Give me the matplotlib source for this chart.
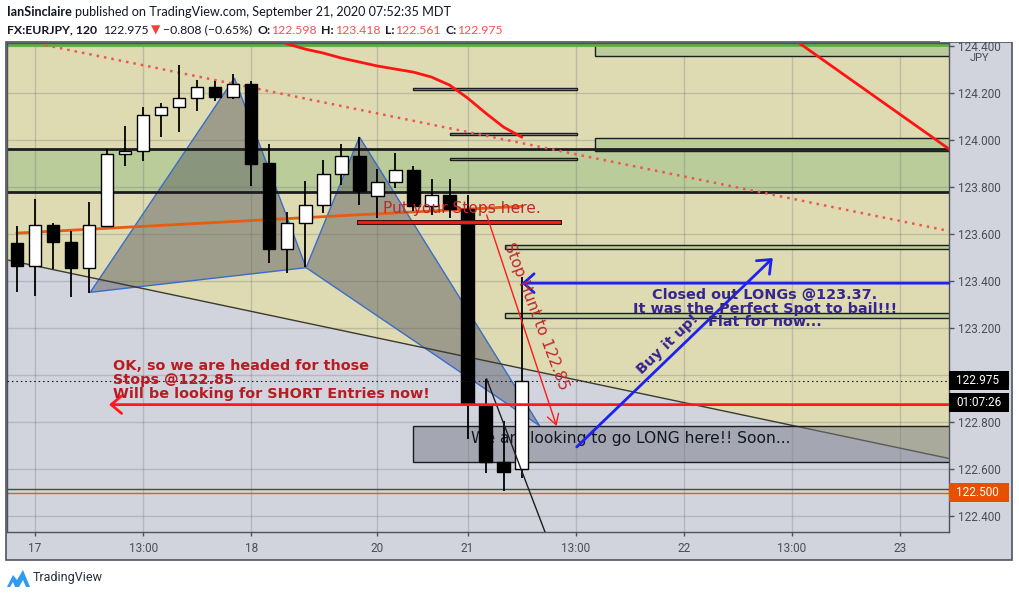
import matplotlib
matplotlib.use("Agg")
import matplotlib.pyplot as plt
from matplotlib.patches import Rectangle, Polygon
from matplotlib.transforms import blended_transform_factory
import matplotlib.patheffects as pe
from matplotlib.ticker import FormatStrFormatter

plt.rcParams['font.family'] = ['DejaVu Sans']

W, H = 1020, 597

# ---------------- data ----------------
bar_open = [123.562, 123.465, 123.637, 123.565, 123.457, 123.635, 123.939, 123.952, 124.105, 124.139,
            124.178, 124.224, 124.184, 124.238, 123.901, 123.537, 123.647, 123.722, 123.854, 123.932,
            123.760, 123.820, 123.871, 123.721, 123.765, 123.705, 122.868, 122.631, 122.598]
bar_high = [123.634, 123.748, 123.647, 123.614, 123.735, 123.962, 124.060, 124.139, 124.157, 124.319,
            124.255, 124.252, 124.281, 124.252, 123.983, 123.692, 123.826, 123.915, 123.983, 124.014,
            123.877, 123.945, 123.889, 123.833, 123.833, 123.765, 122.984, 122.803, 123.418]
bar_low = [123.353, 123.336, 123.451, 123.331, 123.348, 123.631, 123.889, 123.912, 124.013, 124.035,
           124.125, 124.167, 124.174, 123.806, 123.478, 123.433, 123.458, 123.691, 123.810, 123.725,
           123.669, 123.794, 123.700, 123.681, 123.667, 122.727, 122.582, 122.508, 122.561]
bar_close = [123.464, 123.637, 123.565, 123.457, 123.637, 123.939, 123.952, 124.105, 124.139, 124.177,
             124.224, 124.184, 124.237, 123.899, 123.537, 123.647, 123.722, 123.854, 123.932, 123.783,
             123.821, 123.871, 123.721, 123.765, 123.705, 122.877, 122.631, 122.589, 122.975]

time_tick_idx = [1, 7, 13, 20, 25, 31, 37, 43, 49]
time_tick_labels = ['17', '13:00', '18', '20', '21', '13:00', '22', '13:00', '23']
price_ticks = [122.4, 122.6, 122.8, 123.0, 123.2, 123.4, 123.6, 123.8, 124.0, 124.2, 124.4]
price_tick_shown = [122.4, 122.6, 122.8, 123.2, 123.4, 123.6, 123.8, 124.0, 124.2, 124.4]

x_range = (-0.56, 51.72)
y_range = (122.332, 124.413)

ma_red_x = [14, 15, 16, 17, 18, 19, 20, 21, 22, 23, 24, 25, 26, 27, 28]
ma_red_y = [124.44, 124.409, 124.387, 124.370, 124.349, 124.332, 124.315, 124.302, 124.289,
            124.268, 124.234, 124.179, 124.115, 124.055, 124.013]
ma_orange_x = [0, 9, 18, 28]
ma_orange_y = [123.604, 123.641, 123.678, 123.718]

dotted_trend_x = [1.56, 51.72]
dotted_trend_y = [124.404, 123.613]
red_trend_x = [43.4, 51.72]
red_trend_y = [124.413, 123.962]
lower_trend_x = [-0.56, 51.72]
lower_trend_y = [123.49, 122.645]
steep_line_x = [26.06, 29.3]
steep_line_y = [122.983, 122.332]

pattern_xabcd_x = [4.06, 12.06, 16.04, 19.0, 29.0]
pattern_xabcd_y = [123.352, 124.264, 123.457, 124.013, 122.784]

green_band = (123.781, 123.962)
top_green_level = 124.407
right_boxes = [(32.06, 124.357, 124.42), (32.06, 123.953, 124.010),
               (27.06, 123.535, 123.554), (27.06, 123.243, 123.264)]
small_boxes = [(22.0, 31.06, 124.211, 124.221), (24.0, 31.06, 124.020, 124.031),
               (24.0, 31.06, 123.914, 123.922)]
long_zone = (22.0, 122.632, 122.783)
stop_level = (19.0, 30.06, 123.650)
last_price = 122.975
green_level = 122.515
orange_level = 122.500
red_arrow = (51.72, 5.1, 122.874)
blue_arrow = (51.72, 28.0, 123.391)
buy_arrow = ((31.06, 122.694), (41.94, 123.498))
hunt_arrow = ((26.06, 123.681), (29.94, 122.783))

# ---------------- figure ----------------
fig = plt.figure(figsize=(W / 100, H / 100), dpi=100)
fig.patch.set_facecolor('white')


def fx(px):
    return px / W


def fy(py):
    return 1 - py / H


frame = Rectangle((fx(6), fy(560)), fx(1012) - fx(6), fy(42) - fy(560), transform=fig.transFigure,
                  facecolor='#d1d4dc', edgecolor='#50535e', lw=1.2, zorder=-5)
fig.patches.append(frame)

ax = fig.add_axes([fx(7), fy(532), fx(949) - fx(7), fy(43) - fy(532)])
ax.set_facecolor('#d1d4dc')
ax.set_xlim(*x_range)
ax.set_ylim(*y_range)
x0, x1 = x_range
ytop = y_range[1]

# yellow area above the lower trend line
ax.add_patch(Polygon([(lower_trend_x[0], lower_trend_y[0]), (lower_trend_x[1], lower_trend_y[1]),
                      (x1, ytop + 0.1), (x0, ytop + 0.1)], closed=True,
                     facecolor='#dedbb2', edgecolor='none', zorder=0.5))
ax.plot(lower_trend_x, lower_trend_y, color='#3b3a2c', lw=1, zorder=2)

# green band
ax.add_patch(Rectangle((x0, green_band[0]), x1 - x0, green_band[1] - green_band[0],
                       facecolor='#b9cc99', edgecolor='none', zorder=0.6))
for lv in green_band:
    ax.axhline(lv, color='#1c1d20', lw=2, zorder=2)
ax.axhline(top_green_level, color='#5cb045', lw=3.5, zorder=2)

for (bx, b0, b1) in right_boxes:
    ax.add_patch(Rectangle((bx, b0), x1 + 1 - bx, b1 - b0, facecolor='#b9cc99',
                           edgecolor='#1c1d20', lw=1, zorder=1.7))
for (bx0, bx1, b0, b1) in small_boxes:
    ax.add_patch(Rectangle((bx0, b0), bx1 - bx0, b1 - b0, facecolor='#a9a99c',
                           edgecolor='#1c1d20', lw=1, zorder=1.7))

# grid / ticks
ax.set_xticks(time_tick_idx)
ax.set_xticklabels(time_tick_labels)
ax.set_yticks(price_ticks)
ax.yaxis.set_major_formatter(FormatStrFormatter('%.3f'))
ax.yaxis.tick_right()
ax.grid(True, color='#6a6d78', alpha=0.28, lw=1)
ax.xaxis.set_zorder(1.5)
ax.yaxis.set_zorder(1.5)
ax.tick_params(axis='y', direction='out', length=3.6, width=1, color='#50535e',
               labelsize=8.5, labelcolor='#4a4d57', pad=2.8)
ax.tick_params(axis='x', direction='out', length=3, width=1, color='#50535e',
               labelsize=8.5, labelcolor='#4a4d57', pad=4.5)
for lab in ax.get_xticklabels() + ax.get_yticklabels():
    lab.set_family(['Roboto', 'DejaVu Sans'])
# hide the 123.000 label (covered by price labels in the reference)
for tick, val in zip(ax.yaxis.get_major_ticks(), price_ticks):
    if val not in price_tick_shown:
        tick.label2.set_visible(False)
for sp in ax.spines.values():
    sp.set_color('#50535e')
    sp.set_linewidth(1)

# harmonic pattern triangles
px_, py_ = pattern_xabcd_x, pattern_xabcd_y
for tri in ([0, 1, 2], [2, 3, 4]):
    ax.add_patch(Polygon([(px_[k], py_[k]) for k in tri], closed=True,
                         facecolor=(0.34, 0.35, 0.38, 0.47), edgecolor='#3a6cc8', lw=1, zorder=1.8))

# long zone box
ax.add_patch(Rectangle((long_zone[0], long_zone[1]), x1 + 1 - long_zone[0], long_zone[2] - long_zone[1],
                       facecolor=(0.47, 0.48, 0.53, 0.5), edgecolor='#1c1d20', lw=1, zorder=3))
ax.text(25.2, 122.712, 'We are looking to go LONG here!! Soon...', fontsize=11.2, color='#131722',
        ha='left', va='baseline', zorder=3.5)

# moving averages and trend lines
ax.plot(ma_red_x, ma_red_y, color='#ff1414', lw=2, zorder=3.8)
ax.plot(ma_orange_x, ma_orange_y, color='#e65c12', lw=2, zorder=3.8)
ax.plot(dotted_trend_x, dotted_trend_y, color='#f0554f', lw=1.8, ls=(0, (1, 2)), zorder=3.8)
ax.plot(red_trend_x, red_trend_y, color='#ff1414', lw=2, zorder=3.8)

# horizontal levels
ax.axhline(green_level, color='#2e5a2e', lw=1, zorder=2)
ax.axhline(orange_level, color='#e65c12', lw=1, zorder=2)
ax.axhline(last_price, color='#131722', lw=0.8, ls=(0, (1.4, 2.6)), zorder=6)

# candles
for i, (o, h, l, c) in enumerate(zip(bar_open, bar_high, bar_low, bar_close)):
    ax.vlines(i, l, h, color='black', lw=1.3, zorder=4)
    bottom = min(o, c)
    height = max(abs(c - o), 0.004)
    fc = 'white' if c >= o else 'black'
    ax.add_patch(Rectangle((i - 0.34, bottom), 0.68, height, facecolor=fc, edgecolor='black',
                           lw=1, zorder=5))

# drawings above candles
ax.plot([stop_level[0], stop_level[1]], [stop_level[2]] * 2, color='#ff1a1a', lw=2, zorder=6,
        path_effects=[pe.Stroke(linewidth=3.6, foreground='#3a1212'), pe.Normal()])
ax.plot(steep_line_x, steep_line_y, color='#1c1d20', lw=1, zorder=6)

ax.annotate('', xy=(red_arrow[1], red_arrow[2]), xytext=(red_arrow[0], red_arrow[2]),
            arrowprops=dict(arrowstyle='->,head_length=0.5,head_width=0.42', color='#ff1a1a', lw=2,
                            shrinkA=0, shrinkB=0, mutation_scale=15), zorder=6)
ax.annotate('', xy=(blue_arrow[1], blue_arrow[2]), xytext=(blue_arrow[0], blue_arrow[2]),
            arrowprops=dict(arrowstyle='->,head_length=0.5,head_width=0.45', color='#1e22f0', lw=2,
                            shrinkA=0, shrinkB=0, mutation_scale=15), zorder=6)
ax.annotate('', xy=buy_arrow[1], xytext=buy_arrow[0],
            arrowprops=dict(arrowstyle='->,head_length=0.55,head_width=0.45', color='#1e22f0', lw=2,
                            shrinkA=0, shrinkB=0, mutation_scale=15), zorder=6)
ax.annotate('', xy=hunt_arrow[1], xytext=hunt_arrow[0],
            arrowprops=dict(arrowstyle='->,head_length=0.6,head_width=0.35', color='#ff1a1a', lw=1,
                            shrinkA=0, shrinkB=0, mutation_scale=12), zorder=6)

# texts
red_txt = '#b71c22'
ax.text(20.28, 123.691, 'Put your Stops here.', fontsize=11.2, color='#c0272d', ha='left',
        va='baseline', zorder=7)
ax.text(28.8, 123.251, 'Stop Hunt to 122.85', fontsize=11.2, color='#c0272d', rotation=-69,
        rotation_mode='anchor', ha='center', va='center', zorder=7)
for yb, s in zip([123.021, 122.962, 122.903],
                 ['OK, so we are headed for those', 'Stops @122.85', 'Will be looking for SHORT Entries now!']):
    ax.text(5.296, yb, s, fontsize=10.4, fontweight='bold', color=red_txt, ha='left', va='baseline', zorder=7)
blue_txt = '#36248f'
for yb, s in zip([123.323, 123.266, 123.209],
                 ['Closed out LONGs @123.37.', 'It was the Perfect Spot to bail!!!', 'Flat for now...']):
    ax.text(41.5, yb, s, fontsize=10.4, fontweight='bold', color=blue_txt, ha='center', va='baseline', zorder=7)
ax.text(36.11, 123.132, 'Buy it up!', fontsize=10.4, fontweight='bold', color=blue_txt, rotation=44,
        rotation_mode='anchor', ha='center', va='center', zorder=7)

# price labels on the right scale
blend = blended_transform_factory(fig.transFigure, ax.transData)
unit_px = 235.0
box_h = 19 / unit_px
timer_center = last_price - 22 / unit_px
for (cy, txt, col) in [(last_price, '122.975', '#000000'), (timer_center, '01:07:26', '#000000'),
                       (orange_level, '122.500', '#e65100')]:
    ax.add_patch(Rectangle((fx(949), cy - box_h / 2), fx(1009) - fx(949), box_h, transform=blend,
                           facecolor=col, edgecolor='none', clip_on=False, zorder=10))
    ax.text(fx(956), cy, txt, transform=blend, color='white', fontsize=8.5, ha='left', va='center',
            family=['Roboto', 'DejaVu Sans'], clip_on=False, zorder=11)
fig.text(fx(980), fy(58), 'JPY', fontsize=8, color='#4a4d57', ha='center', va='center',
         family=['Roboto', 'DejaVu Sans'])
fig.patches.append(Rectangle((fx(940), fy(41.5)), fx(1020) - fx(940), fy(0) - fy(41.5),
                             transform=fig.transFigure, facecolor='white', edgecolor='none', zorder=20))

# ---------------- header / footer ----------------
renderer = fig.canvas.get_renderer()
hdr_family = ['Lato', 'DejaVu Sans']


def seq_text(parts, x_start, y_center, target_w, base=10.0):
    def layout(size):
        x = x_start
        arts = []
        for s, wgt, col, gap in parts:
            x += gap * size * 100 / 72
            t = fig.text(fx(x), fy(y_center), s, fontsize=size, fontweight=wgt, color=col,
                         family=hdr_family, ha='left', va='center', zorder=30)
            x += t.get_window_extent(renderer).width
            arts.append(t)
        return x - x_start, arts
    w, arts = layout(base)
    for a in arts:
        a.remove()
    layout(base * target_w / w)


dark = '#131722'
redv = '#ef5350'
seq_text([('IanSinclaire', 'bold', dark, 0),
          ('published on TradingView.com, September 21, 2020 07:52:35 MDT', 'normal', dark, 0.27)],
         7, 12, 446)
seq_text([('FX:EURJPY, 120', 'bold', dark, 0), ('122.975', 'normal', dark, 0.5),
          ('\u25bc', 'normal', '#f44336', 0.15), ('\u22120.808 (\u22120.65%)', 'normal', dark, 0.25),
          ('O:', 'bold', dark, 0.4), ('122.598', 'normal', redv, 0.05),
          ('H:', 'bold', dark, 0.4), ('123.418', 'normal', redv, 0.05),
          ('L:', 'bold', dark, 0.4), ('122.561', 'normal', redv, 0.05),
          ('C:', 'bold', dark, 0.4), ('122.975', 'normal', redv, 0.05)],
         7, 30, 499)

logo_px = [(7, 587), (13, 575), (17, 580), (23, 570), (30, 587), (26, 587), (23, 580),
           (19, 587), (15, 587), (13, 582), (10, 587)]
fig.patches.append(Polygon([(fx(a), fy(b)) for a, b in logo_px], closed=True, transform=fig.transFigure,
                           facecolor='#2e9bf0', edgecolor='none'))
fig.text(fx(33), fy(578), 'TradingView', fontsize=9, color='#2a2e39', ha='left', va='center',
         family=['Roboto', 'DejaVu Sans'])

fig.savefig('out.png', dpi=100)
